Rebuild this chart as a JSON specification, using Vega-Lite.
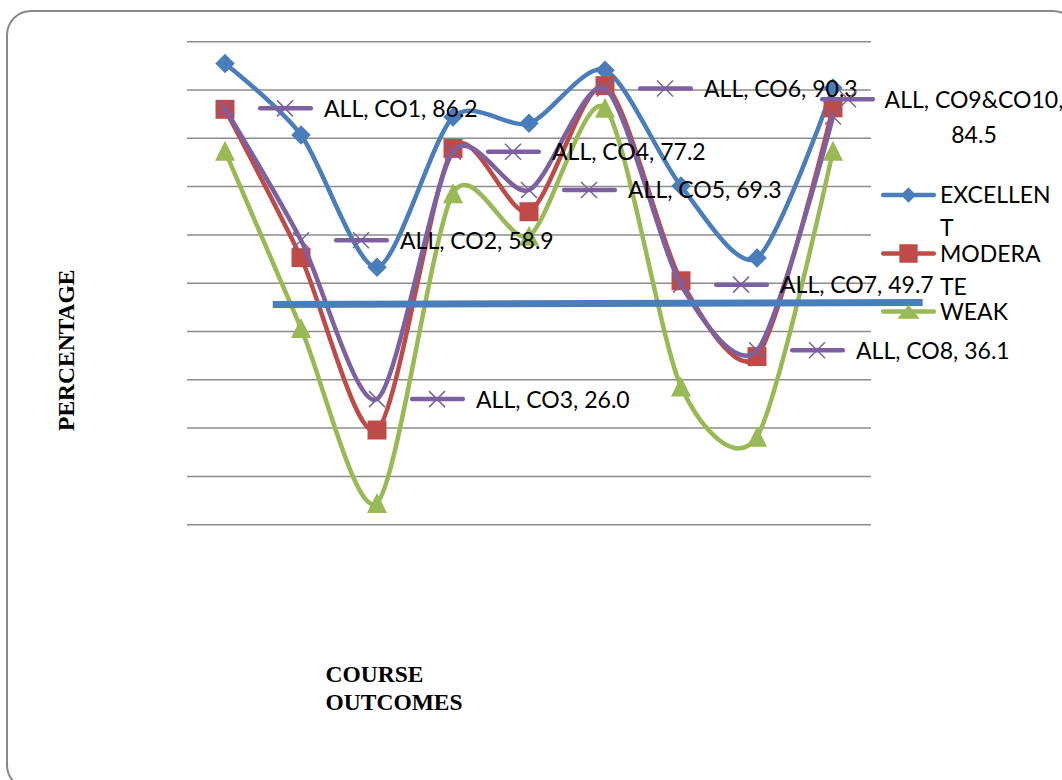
{
  "$schema": "https://vega.github.io/schema/vega-lite/v6.json",
  "width": 1070,
  "height": 778,
  "autosize": {"type": "none"},
  "padding": {"left": 7, "top": 11, "right": -15, "bottom": -9},
  "background": "white",
  "config": {
    "view": {"stroke": "#898989", "strokeWidth": 2, "cornerRadius": 24, "fill": "white"},
    "axisX": {
      "labels": false, "ticks": false, "domain": false, "grid": false,
      "titleFont": "Liberation Serif", "titleFontWeight": "bold", "titleFontSize": 23.5, "titleColor": "black",
      "titleX": 318, "titleY": -107.3, "titleAlign": "left", "titleBaseline": "alphabetic", "titleLineHeight": 28, "titleAngle": 0
    },
    "axisY": {
      "labels": false, "ticks": false, "domain": false, "grid": false,
      "titleFont": "Liberation Serif", "titleFontWeight": "bold", "titleFontSize": 23.5, "titleColor": "black",
      "titleX": 66.3, "titleY": 338.7, "titleAngle": -90, "titleAlign": "center", "titleBaseline": "alphabetic"
    }
  },
  "datasets": {
    "series": [
      {"co": "CO1", "idx": 1, "series": "EXCELLENT", "value": 95.5},
      {"co": "CO2", "idx": 2, "series": "EXCELLENT", "value": 80.7},
      {"co": "CO3", "idx": 3, "series": "EXCELLENT", "value": 53.3},
      {"co": "CO4", "idx": 4, "series": "EXCELLENT", "value": 84.4},
      {"co": "CO5", "idx": 5, "series": "EXCELLENT", "value": 83.1},
      {"co": "CO6", "idx": 6, "series": "EXCELLENT", "value": 94.1},
      {"co": "CO7", "idx": 7, "series": "EXCELLENT", "value": 70.1},
      {"co": "CO8", "idx": 8, "series": "EXCELLENT", "value": 55.2},
      {"co": "CO9&CO10", "idx": 9, "series": "EXCELLENT", "value": 90.4},
      {"co": "CO1", "idx": 1, "series": "MODERATE", "value": 86.0},
      {"co": "CO2", "idx": 2, "series": "MODERATE", "value": 55.3},
      {"co": "CO3", "idx": 3, "series": "MODERATE", "value": 19.6},
      {"co": "CO4", "idx": 4, "series": "MODERATE", "value": 77.9},
      {"co": "CO5", "idx": 5, "series": "MODERATE", "value": 64.8},
      {"co": "CO6", "idx": 6, "series": "MODERATE", "value": 90.9},
      {"co": "CO7", "idx": 7, "series": "MODERATE", "value": 50.5},
      {"co": "CO8", "idx": 8, "series": "MODERATE", "value": 34.8},
      {"co": "CO9&CO10", "idx": 9, "series": "MODERATE", "value": 86.3},
      {"co": "CO1", "idx": 1, "series": "WEAK", "value": 77.4},
      {"co": "CO2", "idx": 2, "series": "WEAK", "value": 40.7},
      {"co": "CO3", "idx": 3, "series": "WEAK", "value": 4.5},
      {"co": "CO4", "idx": 4, "series": "WEAK", "value": 68.6},
      {"co": "CO5", "idx": 5, "series": "WEAK", "value": 59.8},
      {"co": "CO6", "idx": 6, "series": "WEAK", "value": 86.3},
      {"co": "CO7", "idx": 7, "series": "WEAK", "value": 28.6},
      {"co": "CO8", "idx": 8, "series": "WEAK", "value": 18.2},
      {"co": "CO9&CO10", "idx": 9, "series": "WEAK", "value": 77.4},
      {"co": "CO1", "idx": 1, "series": "ALL", "value": 86.2, "label": "ALL, CO1, 86.2"},
      {"co": "CO2", "idx": 2, "series": "ALL", "value": 58.9, "label": "ALL, CO2, 58.9"},
      {"co": "CO3", "idx": 3, "series": "ALL", "value": 26.0, "label": "ALL, CO3, 26.0"},
      {"co": "CO4", "idx": 4, "series": "ALL", "value": 77.2, "label": "ALL, CO4, 77.2"},
      {"co": "CO5", "idx": 5, "series": "ALL", "value": 69.3, "label": "ALL, CO5, 69.3"},
      {"co": "CO6", "idx": 6, "series": "ALL", "value": 90.3, "label": "ALL, CO6, 90.3"},
      {"co": "CO7", "idx": 7, "series": "ALL", "value": 49.7, "label": "ALL, CO7, 49.7"},
      {"co": "CO8", "idx": 8, "series": "ALL", "value": 36.1, "label": "ALL, CO8, 36.1"},
      {"co": "CO9&CO10", "idx": 9, "series": "ALL", "value": 84.5, "label": "ALL, CO9&CO10,\n84.5"}
    ],
    "grid": [
      {"value": 0}, {"value": 10}, {"value": 20}, {"value": 30}, {"value": 40}, {"value": 50},
      {"value": 60}, {"value": 70}, {"value": 80}, {"value": 90}, {"value": 100}
    ]
  },
  "layer": [
    {
      "data": {"name": "grid"},
      "mark": {"type": "rule", "color": "#8c8c8c", "strokeWidth": 1.5},
      "encoding": {
        "x": {"datum": 0.5, "type": "quantitative", "title": ["COURSE", "OUTCOMES"],
              "scale": {"domain": [0.5, 9.5], "range": [180, 864], "nice": false, "zero": false}},
        "x2": {"datum": 9.5},
        "y": {"field": "value", "type": "quantitative", "title": "PERCENTAGE",
              "scale": {"domain": [0, 100], "range": [513.7, 30.7], "nice": false, "zero": false}}
      }
    },
    {
      "data": {"name": "series"},
      "encoding": {
        "x": {"field": "idx", "type": "quantitative", "title": ["COURSE", "OUTCOMES"]},
        "y": {"field": "value", "type": "quantitative", "title": "PERCENTAGE"}
      },
      "layer": [
        {
          "transform": [{"filter": "datum.series === 'EXCELLENT'"}],
          "layer": [
            {
              "mark": {"type": "line", "interpolate": "cardinal", "tension": 0.2, "strokeWidth": 4.5, "strokeCap": "round", "strokeJoin": "round"},
              "encoding": {
                "color": {
                  "field": "series", "type": "nominal",
                  "scale": {"domain": ["EXCELLENT", "MODERATE", "WEAK", "ALL"], "range": ["#4A7EBB", "#BE4B48", "#98B954", "#7D60A0"]},
                  "legend": {
                    "values": ["EXCELLENT", "MODERATE", "WEAK"],
                    "orient": "none", "legendX": 873, "legendY": 172.5,
                    "title": null, "padding": 0, "rowPadding": -4.5,
                    "symbolSize": 4, "symbolStrokeWidth": 4.5, "symbolOffset": 17, "labelOffset": 20,
                    "labelFont": "Lato", "labelFontSize": 23, "labelColor": "black", "labelBaseline": "alphabetic", "labelLimit": 300,
                    "labelExpr": "datum.label === 'EXCELLENT' ? ['EXCELLEN', 'T'] : datum.label === 'MODERATE' ? ['MODERA', 'TE'] : datum.label",
                    "encode": {
                      "symbols": {"update": {
                        "shape": {"signal": "datum.value === 'EXCELLENT' ? 'M-25.3,0H25.3M0,-4.5L4.5,0L0,4.5L-4.5,0Z' : datum.value === 'MODERATE' ? 'M-25.3,0H25.3M-6.9,-6.9H6.9V6.9H-6.9Z' : 'M-25.3,0H25.3M0,-3L6.5,5L-6.5,5Z'"},
                        "fill": {"scale": "color", "field": "value"},
                        "stroke": {"scale": "color", "field": "value"},
                        "strokeCap": {"value": "round"},
                        "opacity": {"value": 1}
                      }},
                      "labels": {"update": {"lineHeight": {"value": 33}, "dy": {"value": 8}}}
                    }
                  }
                }
              }
            },
            {"mark": {"type": "point", "shape": "diamond", "size": 380, "filled": true, "color": "#4A7EBB", "opacity": 1}}
          ]
        },
        {
          "transform": [{"filter": "datum.series === 'MODERATE'"}],
          "layer": [
            {
              "mark": {"type": "line", "interpolate": "cardinal", "tension": 0.2, "strokeWidth": 4.5, "strokeCap": "round", "strokeJoin": "round"},
              "encoding": {"color": {"field": "series", "type": "nominal"}}
            },
            {"mark": {"type": "point", "shape": "square", "size": 360, "filled": true, "color": "#BE4B48", "opacity": 1}}
          ]
        },
        {
          "transform": [{"filter": "datum.series === 'WEAK'"}],
          "layer": [
            {
              "mark": {"type": "line", "interpolate": "cardinal", "tension": 0.2, "strokeWidth": 4.5, "strokeCap": "round", "strokeJoin": "round"},
              "encoding": {"color": {"field": "series", "type": "nominal"}}
            },
            {"mark": {"type": "point", "shape": "M0,-1L1,1L-1,1Z", "size": 400, "filled": true, "color": "#98B954", "opacity": 1}}
          ]
        },
        {
          "transform": [{"filter": "datum.series === 'ALL'"}],
          "layer": [
            {
              "mark": {"type": "line", "interpolate": "cardinal", "tension": 0.2, "strokeWidth": 4.5, "strokeCap": "round", "strokeJoin": "round"},
              "encoding": {"color": {"field": "series", "type": "nominal"}}
            },
            {"mark": {"type": "point", "shape": "M-1,-1L1,1M1,-1L-1,1", "size": 256, "filled": false, "color": "#7D60A0", "strokeWidth": 1.5, "opacity": 1}}
          ]
        }
      ]
    },
    {
      "data": {"values": [{"level": "target"}]},
      "mark": {"type": "rule", "color": "#4A7EBB", "strokeWidth": 7, "strokeCap": "butt"},
      "encoding": {
        "x": {"datum": 1.628, "type": "quantitative"}, "x2": {"datum": 10.18},
        "y": {"datum": 45.6, "type": "quantitative"}, "y2": {"datum": 46.0}
      }
    },
    {
      "data": {"name": "series"},
      "encoding": {
        "x": {"field": "idx", "type": "quantitative", "title": ["COURSE", "OUTCOMES"]},
        "y": {"field": "value", "type": "quantitative", "title": "PERCENTAGE"}
      },
      "layer": [
        {
          "transform": [{"filter": "datum.series === 'ALL' && datum.idx < 9"}],
          "layer": [
            {"mark": {"type": "point", "shape": "M35.2,0H85.8", "size": 4, "filled": false, "color": "#7D60A0", "strokeWidth": 4.5, "strokeCap": "round", "opacity": 1}},
            {"mark": {"type": "point", "shape": "M52,-8L68,8M68,-8L52,8", "size": 4, "filled": false, "color": "#7D60A0", "strokeWidth": 1.5, "opacity": 1}},
            {
              "mark": {"type": "text", "align": "left", "baseline": "middle", "dx": 99, "dy": 1.5, "font": "Lato", "fontSize": 23, "color": "black"},
              "encoding": {"text": {"field": "label"}}
            }
          ]
        },
        {
          "transform": [{"filter": "datum.series === 'ALL' && datum.idx === 9"}],
          "layer": [
            {"mark": {"type": "point", "shape": "M-10.8,-17.3H39.8", "size": 4, "filled": false, "color": "#7D60A0", "strokeWidth": 4.5, "strokeCap": "round", "opacity": 1}},
            {"mark": {"type": "point", "shape": "M7,-25.3L23,-9.3M23,-25.3L7,-9.3", "size": 4, "filled": false, "color": "#7D60A0", "strokeWidth": 1.5, "opacity": 1}},
            {
              "mark": {"type": "text", "align": "center", "baseline": "alphabetic", "dx": 141, "dy": -8.3, "lineBreak": "\n", "lineHeight": 34.4, "font": "Lato", "fontSize": 23, "color": "black"},
              "encoding": {"text": {"field": "label"}}
            }
          ]
        }
      ]
    }
  ]
}
